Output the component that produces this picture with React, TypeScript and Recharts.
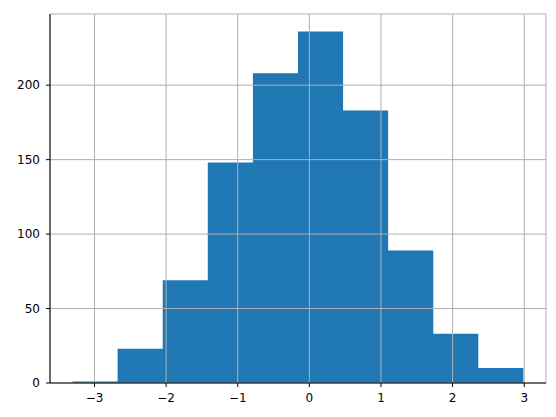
import React from 'react';
import { ComposedChart, Area, XAxis, YAxis, CartesianGrid } from 'recharts';

// histogram: 10 bins, edges
const binEdges = [-3.306, -2.677, -2.047, -1.418, -0.788, -0.159, 0.471, 1.1, 1.73, 2.359, 2.989];
const binCounts = [1, 23, 69, 148, 208, 236, 183, 89, 33, 10];
const xTicks = [-3, -2, -1, 0, 1, 2, 3];
const yTicks = [0, 50, 100, 150, 200];

// step data: each edge carries the count of the bin to its right, last edge repeats the last bin
const data = binEdges.map((edge, i) => ({
  x: edge,
  count: binCounts[Math.min(i, binCounts.length - 1)],
}));

const fmt = (v: number) => (v < 0 ? '\u2212' + Math.abs(v) : String(v));

const tickStyle = { fill: '#000', fontSize: 12, fontFamily: 'DejaVu Sans' };

const App: React.FC = () => {
  return (
    <div style={{ position: 'absolute', left: 0, top: 0, width: 556, height: 417, background: '#fff' }}>
      <ComposedChart
        width={556}
        height={417}
        data={data}
        margin={{ top: 14, right: 10, left: 0, bottom: 0 }}
      >
        <Area
          type="stepAfter"
          dataKey="count"
          stroke="none"
          fill="#1f77b4"
          fillOpacity={1}
          isAnimationActive={false}
          dot={false}
          activeDot={false}
        />
        <CartesianGrid stroke="#b0b0b0" strokeWidth={1} zIndex={500} />
        <XAxis
          dataKey="x"
          type="number"
          domain={[-3.621, 3.304]}
          ticks={xTicks}
          tickFormatter={fmt}
          allowDataOverflow
          height={34}
          tick={tickStyle}
          tickSize={4}
          tickMargin={6}
          axisLine={{ stroke: '#000', strokeWidth: 1 }}
          tickLine={{ stroke: '#000', strokeWidth: 1 }}
          zIndex={600}
        />
        <XAxis
          xAxisId="top"
          orientation="top"
          type="number"
          domain={[-3.621, 3.304]}
          height={0}
          tick={false}
          tickLine={false}
          axisLine={{ stroke: '#000', strokeWidth: 1 }}
          zIndex={600}
        />
        <YAxis
          type="number"
          domain={[0, 247.8]}
          ticks={yTicks}
          allowDataOverflow
          width={50}
          tick={tickStyle}
          tickSize={4}
          tickMargin={6}
          axisLine={{ stroke: '#000', strokeWidth: 1 }}
          tickLine={{ stroke: '#000', strokeWidth: 1 }}
          zIndex={600}
        />
        <YAxis
          yAxisId="right"
          orientation="right"
          type="number"
          domain={[0, 247.8]}
          width={0}
          tick={false}
          tickLine={false}
          axisLine={{ stroke: '#000', strokeWidth: 1 }}
          zIndex={600}
        />
      </ComposedChart>
    </div>
  );
};

export default App;
